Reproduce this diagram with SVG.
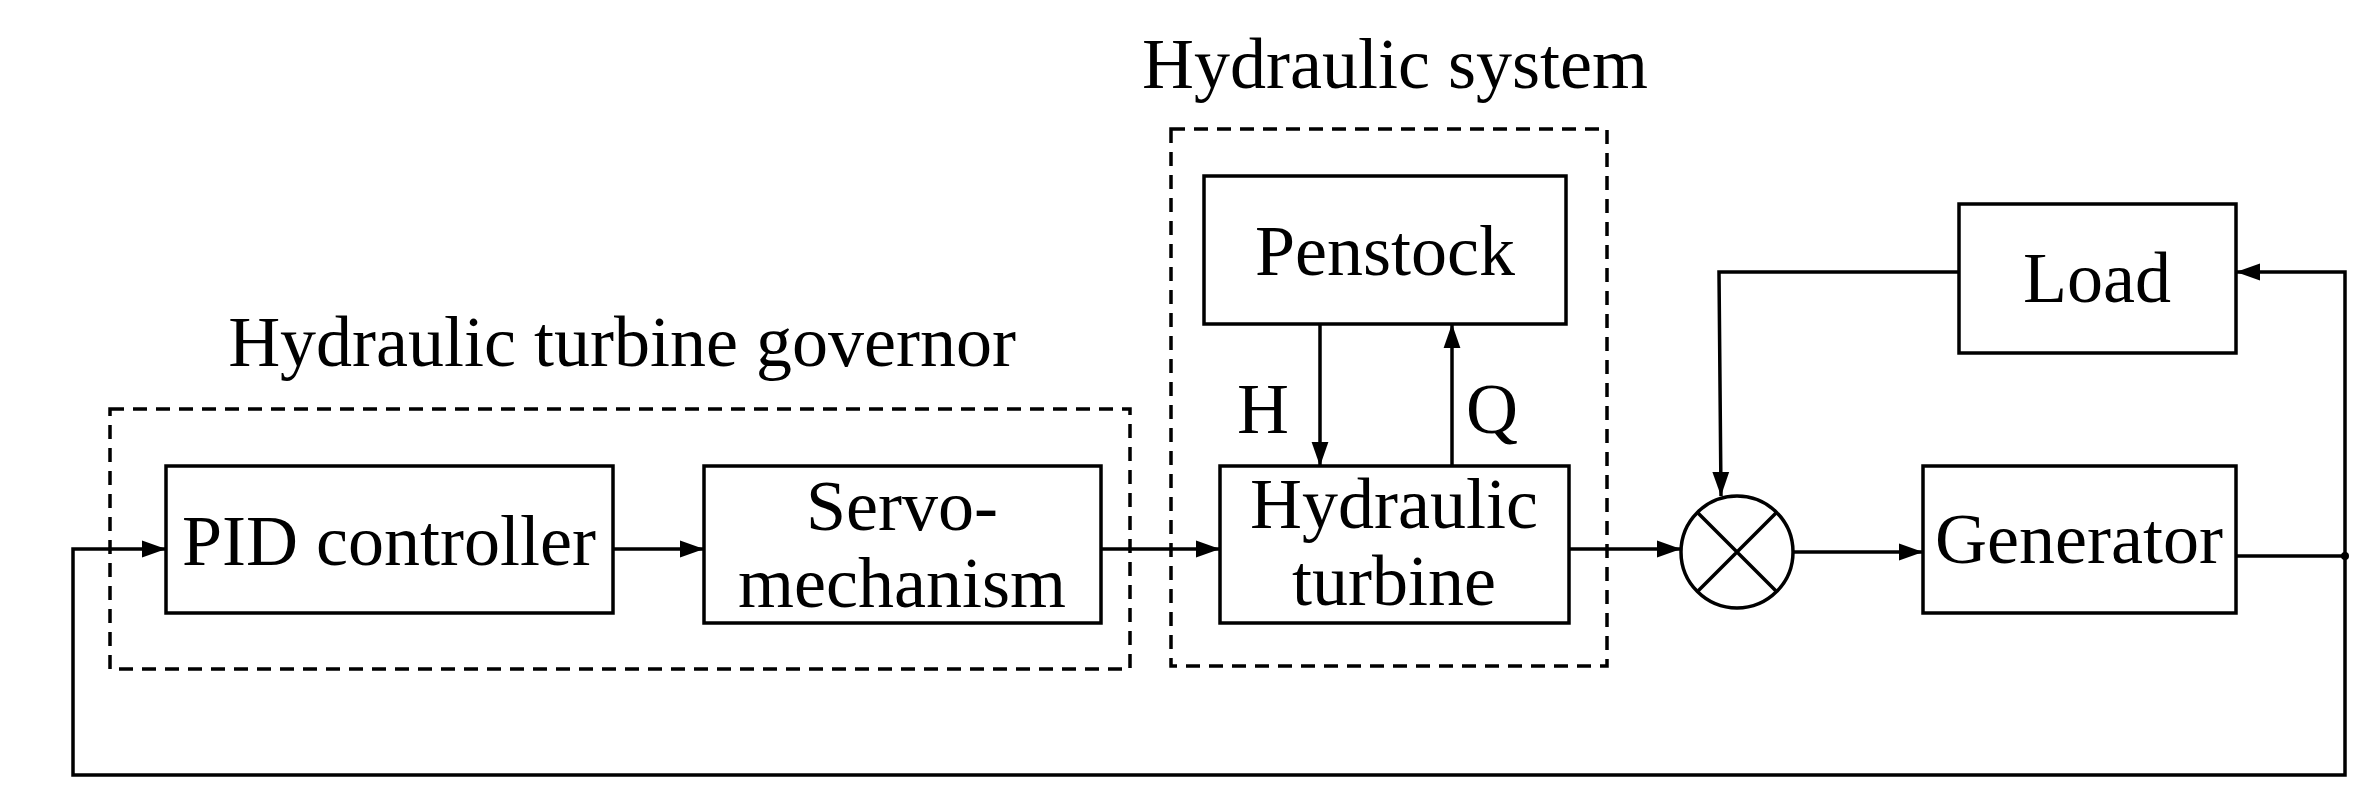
<svg xmlns="http://www.w3.org/2000/svg" width="2361" height="790" viewBox="0 0 2361 790">
<defs>
<marker id="ar" viewBox="0 0 10 10" refX="10" refY="5" markerWidth="24" markerHeight="24" markerUnits="userSpaceOnUse" orient="auto"><path d="M0,1.5 L10,5 L0,8.5 z" fill="#000"/></marker>
</defs>
<style>
rect.b{fill:#fff;stroke:#000;stroke-width:3.5}
rect.d{fill:none;stroke:#000;stroke-width:3.5;stroke-dasharray:14,9}
text{font-family:"Liberation Serif","Times New Roman",serif;font-size:72px;fill:#000;text-anchor:middle}
.c{fill:none;stroke:#000;stroke-width:3.5}
</style>
<rect width="2361" height="790" fill="#fff"/>
<g id="governor-group">
<rect class="d" x="110" y="409" width="1020" height="260"/>
<text x="622" y="366">Hydraulic turbine governor</text>
</g>
<g id="hydraulic-system-group">
<rect class="d" x="1171" y="129" width="436" height="537"/>
<text x="1395" y="88">Hydraulic system</text>
</g>
<g id="connectors">
<path class="c" d="M613,549 H704" marker-end="url(#ar)"/>
<path class="c" d="M1101,549 H1220" marker-end="url(#ar)"/>
<path class="c" d="M1320,324 V466" marker-end="url(#ar)"/>
<path class="c" d="M1452,466 V324" marker-end="url(#ar)"/>
<path class="c" d="M1569,549 H1681" marker-end="url(#ar)"/>
<path class="c" d="M1793,552 H1923" marker-end="url(#ar)"/>
<path class="c" d="M2236,556 H2345 V272 H2236" marker-end="url(#ar)"/>
<path class="c" d="M1959,272 H1719 L1721,496" marker-end="url(#ar)"/>
<path class="c" d="M2345,556 V775 H73 V549 H166" marker-end="url(#ar)"/>
<circle cx="2345" cy="556" r="4" fill="#000"/>
</g>
<g id="pid"><rect class="b" x="166" y="466" width="447" height="147"/><text x="389" y="565">PID controller</text></g>
<g id="servo"><rect class="b" x="704" y="466" width="397" height="157"/><text x="902" y="530">Servo-</text><text x="902" y="607">mechanism</text></g>
<g id="penstock"><rect class="b" x="1204" y="176" width="362" height="148"/><text x="1385" y="275">Penstock</text></g>
<g id="turbine"><rect class="b" x="1220" y="466" width="349" height="157"/><text x="1394" y="528">Hydraulic</text><text x="1394" y="605">turbine</text></g>
<g id="sum"><circle class="c" cx="1737" cy="552" r="56"/><path class="c" d="M1697,512 L1777,592 M1777,512 L1697,592"/></g>
<g id="generator"><rect class="b" x="1923" y="466" width="313" height="147"/><text x="2079" y="563">Generator</text></g>
<g id="load"><rect class="b" x="1959" y="204" width="277" height="149"/><text x="2097" y="302">Load</text></g>
<g id="labels"><text x="1263" y="433">H</text><text x="1492" y="433">Q</text></g>
</svg>
